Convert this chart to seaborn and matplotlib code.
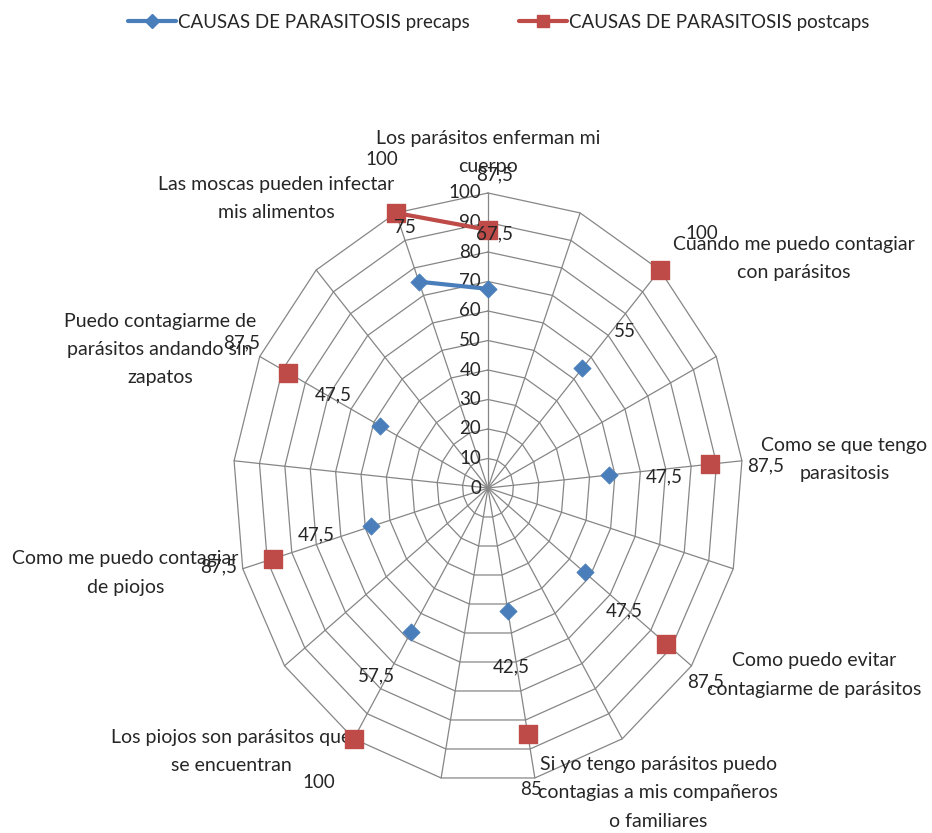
import numpy as np
import pandas as pd
import matplotlib.pyplot as plt
from matplotlib.lines import Line2D
import seaborn as sns

# Data: 17 category slots, only every other one is used in the original sheet
categories = [
    "Los parásitos enferman mi\ncuerpo", "",
    "Cuando me puedo contagiar\ncon parásitos", "",
    "Como se que tengo\nparasitosis", "",
    "Como puedo evitar\ncontagiarme de parásitos", "",
    "Si yo tengo parásitos puedo\ncontagias a mis compañeros\no familiares", "",
    "Los piojos son parásitos que\nse encuentran", "",
    "Como me puedo contagiar\nde piojos", "",
    "Puedo contagiarme de\nparásitos andando sin\nzapatos", "",
    "Las moscas pueden infectar\nmis alimentos",
]
pre = [67.5, np.nan, 55, np.nan, 47.5, np.nan, 47.5, np.nan, 42.5, np.nan,
       57.5, np.nan, 47.5, np.nan, 47.5, np.nan, 75]
post = [87.5, np.nan, 100, np.nan, 87.5, np.nan, 87.5, np.nan, 85, np.nan,
        100, np.nan, 87.5, np.nan, 87.5, np.nan, 100]
series_names = ["CAUSAS DE PARASITOSIS precaps", "CAUSAS DE PARASITOSIS postcaps"]
ticks = [0, 10, 20, 30, 40, 50, 60, 70, 80, 90, 100]

sns.set_style("white")
plt.rcParams['font.family'] = ['Lato', 'DejaVu Sans']
plt.rcParams['font.size'] = 13.5

blue = "#4a7ebb"
red = "#be4b48"
grid_c = "#868686"

n = len(categories)
theta = np.arange(n) * 2 * np.pi / n
df = pd.DataFrame({"theta": theta, "pre": pre, "post": post})

fig = plt.figure(figsize=(9.32, 8.33), dpi=100)
ax = fig.add_axes([233 / 932, 50 / 833, 510 / 932, 590 / 833], projection="polar")
ax.set_aspect("auto")
ax.set_theta_zero_location("N")
ax.set_theta_direction(-1)
ax.set_ylim(0, 100)
ax.grid(False)
ax.spines["polar"].set_visible(False)
ax.set_xticks([])
ax.set_yticks([])

# polygon grid + spokes
closed = np.append(theta, theta[0])
for lvl in ticks[1:]:
    ax.plot(closed, [lvl] * len(closed), color=grid_c, lw=0.9, zorder=1, clip_on=False)
for t in theta:
    ax.plot([t, t], [0, 100], color=grid_c, lw=0.9, zorder=1, clip_on=False)

# radial tick labels on the top spoke
for v in ticks:
    ax.annotate(str(v), (0, v), xytext=(-5, 0), textcoords="offset points",
                ha="right", va="center", fontsize=13.5)

# lines (break at empty categories) and markers
for col, c in [("pre", blue), ("post", red)]:
    vals = np.append(df[col].values, df[col].values[0])
    ax.plot(closed, vals, color=c, lw=3, zorder=3, clip_on=False)
sns.scatterplot(data=df, x="theta", y="pre", marker="D", s=75, color=blue,
                edgecolor=blue, ax=ax, zorder=4, legend=False)
sns.scatterplot(data=df, x="theta", y="post", marker="s", s=150, color=red,
                edgecolor=red, ax=ax, zorder=4, legend=False)
for coll in ax.collections:
    coll.set_clip_on(False)
ax.set_xlabel("")
ax.set_ylabel("")
ax.set_ylim(0, 100)

# value labels
for col in ["pre", "post"]:
    for t, v in zip(df["theta"], df[col]):
        if np.isnan(v):
            continue
        s = ("%g" % v).replace(".", ",")
        a = t + 0.12
        ax.annotate(s, (t, v), xytext=(40 * np.sin(a), 40 * np.cos(a)),
                    textcoords="offset points", ha="center", va="center",
                    fontsize=13.5, zorder=5)

# category labels
for t, lab in zip(theta, categories):
    if not lab:
        continue
    sx, cy = np.sin(t), np.cos(t)
    ha = "left" if sx > 0.1 else ("right" if sx < -0.1 else "center")
    va = "bottom" if cy > 0.95 else "center"
    dx = 14 * sx if sx > 0 else 3 * sx
    dy = 13 if va == "bottom" else 11 * cy
    ax.annotate(lab, (t, 100), xytext=(dx, dy), textcoords="offset points",
                ha=ha, va=va, multialignment="center", fontsize=14,
                linespacing=1.8, annotation_clip=False)

handles = [
    Line2D([], [], color=blue, lw=3, marker="D", markersize=7, label=series_names[0]),
    Line2D([], [], color=red, lw=3, marker="s", markersize=9, label=series_names[1]),
]
fig.legend(handles=handles, loc="center", bbox_to_anchor=(0.535, 0.973), ncol=2,
           frameon=False, handlelength=2.6, columnspacing=2.6, handletextpad=0.1,
           prop={"family": ["Lato", "DejaVu Sans"], "size": 13.5})

fig.savefig("out.png", dpi=100)
